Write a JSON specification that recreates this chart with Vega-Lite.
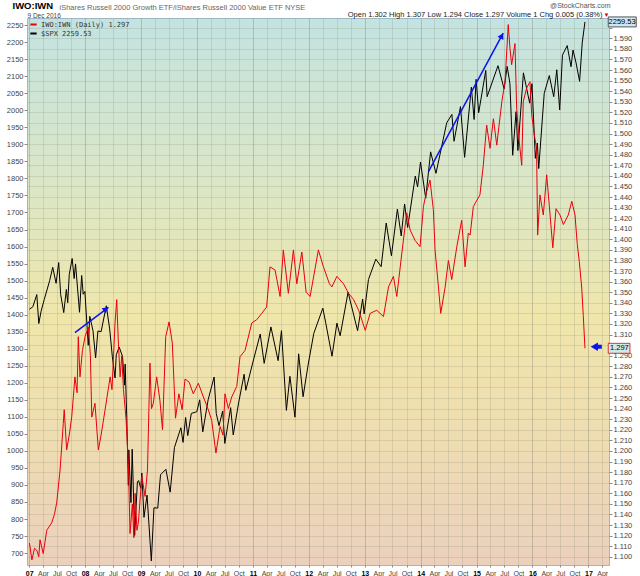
{
  "$schema": "https://vega.github.io/schema/vega-lite/v6.json",
  "description": "IWO:IWN ratio (right axis) against the S&P 500 (left axis), daily, 2007 to Dec 2016.",
  "width": 582,
  "height": 547,
  "autosize": {"type": "none"},
  "padding": {"left": 27, "top": 18, "right": 31, "bottom": 11},
  "datasets": {
    "spx": [
      {"date": "2007-01-03", "close": 1416}, {"date": "2007-01-25", "close": 1423}, {"date": "2007-02-20", "close": 1459},
      {"date": "2007-03-05", "close": 1374}, {"date": "2007-03-20", "close": 1410}, {"date": "2007-04-10", "close": 1445},
      {"date": "2007-05-15", "close": 1500}, {"date": "2007-06-04", "close": 1539}, {"date": "2007-06-26", "close": 1492},
      {"date": "2007-07-13", "close": 1553}, {"date": "2007-07-26", "close": 1459}, {"date": "2007-08-15", "close": 1406},
      {"date": "2007-09-01", "close": 1474}, {"date": "2007-09-10", "close": 1435}, {"date": "2007-09-20", "close": 1518},
      {"date": "2007-10-09", "close": 1565}, {"date": "2007-10-22", "close": 1506}, {"date": "2007-10-31", "close": 1549},
      {"date": "2007-11-26", "close": 1407}, {"date": "2007-12-10", "close": 1515}, {"date": "2007-12-20", "close": 1460},
      {"date": "2007-12-31", "close": 1468}, {"date": "2008-01-22", "close": 1310}, {"date": "2008-02-01", "close": 1395},
      {"date": "2008-02-22", "close": 1353}, {"date": "2008-03-10", "close": 1273}, {"date": "2008-03-25", "close": 1352},
      {"date": "2008-04-15", "close": 1350}, {"date": "2008-05-19", "close": 1426}, {"date": "2008-06-10", "close": 1358},
      {"date": "2008-06-27", "close": 1278}, {"date": "2008-07-15", "close": 1214}, {"date": "2008-07-23", "close": 1282},
      {"date": "2008-08-11", "close": 1305}, {"date": "2008-09-02", "close": 1277}, {"date": "2008-09-15", "close": 1193},
      {"date": "2008-09-19", "close": 1255}, {"date": "2008-09-29", "close": 1106}, {"date": "2008-10-10", "close": 899},
      {"date": "2008-10-13", "close": 1003}, {"date": "2008-10-27", "close": 848}, {"date": "2008-11-04", "close": 1005},
      {"date": "2008-11-20", "close": 752}, {"date": "2008-12-08", "close": 909}, {"date": "2008-12-16", "close": 913},
      {"date": "2008-12-30", "close": 890}, {"date": "2009-01-06", "close": 935}, {"date": "2009-01-20", "close": 805},
      {"date": "2009-02-09", "close": 870}, {"date": "2009-03-09", "close": 677}, {"date": "2009-03-26", "close": 833},
      {"date": "2009-04-20", "close": 832}, {"date": "2009-05-08", "close": 930}, {"date": "2009-06-12", "close": 946},
      {"date": "2009-07-10", "close": 879}, {"date": "2009-08-07", "close": 1010}, {"date": "2009-09-18", "close": 1068},
      {"date": "2009-10-02", "close": 1025}, {"date": "2009-10-19", "close": 1098}, {"date": "2009-11-02", "close": 1045},
      {"date": "2009-11-25", "close": 1110}, {"date": "2009-12-31", "close": 1115}, {"date": "2010-01-19", "close": 1150},
      {"date": "2010-02-08", "close": 1056}, {"date": "2010-03-15", "close": 1150}, {"date": "2010-04-23", "close": 1217},
      {"date": "2010-05-07", "close": 1110}, {"date": "2010-05-25", "close": 1074}, {"date": "2010-06-18", "close": 1117},
      {"date": "2010-07-02", "close": 1022}, {"date": "2010-08-09", "close": 1127}, {"date": "2010-08-26", "close": 1047},
      {"date": "2010-09-30", "close": 1141}, {"date": "2010-11-05", "close": 1225}, {"date": "2010-11-16", "close": 1178},
      {"date": "2010-12-31", "close": 1258}, {"date": "2011-02-18", "close": 1343}, {"date": "2011-03-16", "close": 1257},
      {"date": "2011-04-29", "close": 1364}, {"date": "2011-06-15", "close": 1265}, {"date": "2011-07-07", "close": 1353},
      {"date": "2011-08-08", "close": 1119}, {"date": "2011-08-31", "close": 1219}, {"date": "2011-10-03", "close": 1099},
      {"date": "2011-10-27", "close": 1285}, {"date": "2011-11-25", "close": 1159}, {"date": "2011-12-30", "close": 1258},
      {"date": "2012-02-03", "close": 1345}, {"date": "2012-04-02", "close": 1419}, {"date": "2012-04-20", "close": 1378},
      {"date": "2012-06-01", "close": 1278}, {"date": "2012-07-03", "close": 1375}, {"date": "2012-07-24", "close": 1338},
      {"date": "2012-09-14", "close": 1466}, {"date": "2012-11-15", "close": 1353}, {"date": "2012-12-18", "close": 1446},
      {"date": "2012-12-28", "close": 1402}, {"date": "2013-01-25", "close": 1503}, {"date": "2013-03-14", "close": 1563},
      {"date": "2013-04-18", "close": 1541}, {"date": "2013-05-21", "close": 1669}, {"date": "2013-06-24", "close": 1573},
      {"date": "2013-08-02", "close": 1710}, {"date": "2013-08-27", "close": 1631}, {"date": "2013-09-18", "close": 1725},
      {"date": "2013-10-08", "close": 1656}, {"date": "2013-11-27", "close": 1807}, {"date": "2013-12-12", "close": 1775},
      {"date": "2013-12-31", "close": 1848}, {"date": "2014-02-03", "close": 1742}, {"date": "2014-03-07", "close": 1878},
      {"date": "2014-04-11", "close": 1815}, {"date": "2014-06-20", "close": 1963}, {"date": "2014-07-24", "close": 1988},
      {"date": "2014-08-07", "close": 1909}, {"date": "2014-09-18", "close": 2011}, {"date": "2014-10-15", "close": 1862},
      {"date": "2014-11-28", "close": 2068}, {"date": "2014-12-16", "close": 1973}, {"date": "2014-12-29", "close": 2091},
      {"date": "2015-01-15", "close": 1993}, {"date": "2015-03-02", "close": 2117}, {"date": "2015-03-11", "close": 2040},
      {"date": "2015-05-21", "close": 2131}, {"date": "2015-06-30", "close": 2063}, {"date": "2015-07-20", "close": 2129},
      {"date": "2015-08-07", "close": 2078}, {"date": "2015-08-25", "close": 1868}, {"date": "2015-09-16", "close": 1996},
      {"date": "2015-09-28", "close": 1882}, {"date": "2015-11-03", "close": 2110}, {"date": "2015-12-14", "close": 2021},
      {"date": "2015-12-29", "close": 2078}, {"date": "2016-01-20", "close": 1859}, {"date": "2016-02-02", "close": 1904},
      {"date": "2016-02-11", "close": 1829}, {"date": "2016-03-18", "close": 2050}, {"date": "2016-04-20", "close": 2102},
      {"date": "2016-05-19", "close": 2040}, {"date": "2016-06-08", "close": 2119}, {"date": "2016-06-27", "close": 2001},
      {"date": "2016-07-15", "close": 2162}, {"date": "2016-08-15", "close": 2190}, {"date": "2016-09-09", "close": 2128},
      {"date": "2016-09-22", "close": 2177}, {"date": "2016-10-12", "close": 2139}, {"date": "2016-11-04", "close": 2085},
      {"date": "2016-11-21", "close": 2198}, {"date": "2016-12-09", "close": 2259.53}
    ],
    "ratio": [
      {"date": "2007-01-03", "ratio": 1.113}, {"date": "2007-01-19", "ratio": 1.097}, {"date": "2007-02-05", "ratio": 1.108},
      {"date": "2007-02-20", "ratio": 1.106}, {"date": "2007-03-05", "ratio": 1.100}, {"date": "2007-03-13", "ratio": 1.116},
      {"date": "2007-04-03", "ratio": 1.103}, {"date": "2007-04-26", "ratio": 1.125}, {"date": "2007-05-28", "ratio": 1.132},
      {"date": "2007-06-15", "ratio": 1.140}, {"date": "2007-06-30", "ratio": 1.151}, {"date": "2007-07-22", "ratio": 1.182},
      {"date": "2007-08-12", "ratio": 1.226}, {"date": "2007-08-18", "ratio": 1.239}, {"date": "2007-09-03", "ratio": 1.201},
      {"date": "2007-09-20", "ratio": 1.215}, {"date": "2007-10-06", "ratio": 1.232}, {"date": "2007-10-27", "ratio": 1.270},
      {"date": "2007-11-10", "ratio": 1.255}, {"date": "2007-11-18", "ratio": 1.308}, {"date": "2007-11-29", "ratio": 1.270},
      {"date": "2007-12-15", "ratio": 1.295}, {"date": "2008-01-01", "ratio": 1.308}, {"date": "2008-01-23", "ratio": 1.317},
      {"date": "2008-02-05", "ratio": 1.290}, {"date": "2008-02-14", "ratio": 1.232}, {"date": "2008-03-06", "ratio": 1.245},
      {"date": "2008-03-28", "ratio": 1.201}, {"date": "2008-04-15", "ratio": 1.215}, {"date": "2008-05-11", "ratio": 1.239},
      {"date": "2008-06-13", "ratio": 1.270}, {"date": "2008-06-25", "ratio": 1.258}, {"date": "2008-07-15", "ratio": 1.321},
      {"date": "2008-07-26", "ratio": 1.343}, {"date": "2008-08-05", "ratio": 1.305}, {"date": "2008-08-17", "ratio": 1.270},
      {"date": "2008-08-28", "ratio": 1.290}, {"date": "2008-09-08", "ratio": 1.258}, {"date": "2008-09-25", "ratio": 1.230},
      {"date": "2008-10-10", "ratio": 1.188}, {"date": "2008-10-21", "ratio": 1.122}, {"date": "2008-11-05", "ratio": 1.150},
      {"date": "2008-11-15", "ratio": 1.118}, {"date": "2008-11-23", "ratio": 1.160}, {"date": "2008-12-05", "ratio": 1.125},
      {"date": "2008-12-14", "ratio": 1.132}, {"date": "2009-01-06", "ratio": 1.176}, {"date": "2009-01-27", "ratio": 1.157},
      {"date": "2009-02-12", "ratio": 1.182}, {"date": "2009-02-28", "ratio": 1.283}, {"date": "2009-03-10", "ratio": 1.240},
      {"date": "2009-03-22", "ratio": 1.245}, {"date": "2009-04-13", "ratio": 1.270}, {"date": "2009-05-04", "ratio": 1.248},
      {"date": "2009-05-21", "ratio": 1.220}, {"date": "2009-06-11", "ratio": 1.308}, {"date": "2009-07-03", "ratio": 1.322},
      {"date": "2009-07-24", "ratio": 1.302}, {"date": "2009-08-14", "ratio": 1.231}, {"date": "2009-09-05", "ratio": 1.254},
      {"date": "2009-09-26", "ratio": 1.239}, {"date": "2009-10-15", "ratio": 1.268}, {"date": "2009-11-11", "ratio": 1.265},
      {"date": "2009-12-08", "ratio": 1.254}, {"date": "2010-01-10", "ratio": 1.264}, {"date": "2010-02-12", "ratio": 1.251},
      {"date": "2010-03-16", "ratio": 1.239}, {"date": "2010-04-07", "ratio": 1.229}, {"date": "2010-05-05", "ratio": 1.198},
      {"date": "2010-06-01", "ratio": 1.223}, {"date": "2010-06-20", "ratio": 1.215}, {"date": "2010-07-03", "ratio": 1.254},
      {"date": "2010-07-25", "ratio": 1.240}, {"date": "2010-08-16", "ratio": 1.251}, {"date": "2010-09-18", "ratio": 1.261},
      {"date": "2010-10-09", "ratio": 1.289}, {"date": "2010-11-11", "ratio": 1.295}, {"date": "2010-12-25", "ratio": 1.321},
      {"date": "2011-01-26", "ratio": 1.324}, {"date": "2011-02-28", "ratio": 1.330}, {"date": "2011-04-01", "ratio": 1.336},
      {"date": "2011-04-23", "ratio": 1.374}, {"date": "2011-05-26", "ratio": 1.371}, {"date": "2011-06-28", "ratio": 1.346},
      {"date": "2011-07-19", "ratio": 1.390}, {"date": "2011-08-21", "ratio": 1.349}, {"date": "2011-09-23", "ratio": 1.390},
      {"date": "2011-10-15", "ratio": 1.358}, {"date": "2011-11-17", "ratio": 1.388}, {"date": "2011-12-15", "ratio": 1.350},
      {"date": "2012-01-10", "ratio": 1.346}, {"date": "2012-03-04", "ratio": 1.390}, {"date": "2012-04-06", "ratio": 1.374},
      {"date": "2012-05-15", "ratio": 1.358}, {"date": "2012-05-31", "ratio": 1.355}, {"date": "2012-07-03", "ratio": 1.365},
      {"date": "2012-08-15", "ratio": 1.358}, {"date": "2012-09-17", "ratio": 1.349}, {"date": "2012-10-20", "ratio": 1.343},
      {"date": "2012-11-22", "ratio": 1.333}, {"date": "2013-01-04", "ratio": 1.314}, {"date": "2013-02-05", "ratio": 1.330},
      {"date": "2013-03-20", "ratio": 1.333}, {"date": "2013-05-03", "ratio": 1.327}, {"date": "2013-06-05", "ratio": 1.355},
      {"date": "2013-07-07", "ratio": 1.365}, {"date": "2013-07-29", "ratio": 1.346}, {"date": "2013-08-31", "ratio": 1.387},
      {"date": "2013-10-02", "ratio": 1.425}, {"date": "2013-10-24", "ratio": 1.409}, {"date": "2013-11-25", "ratio": 1.399},
      {"date": "2013-12-28", "ratio": 1.393}, {"date": "2014-01-19", "ratio": 1.431}, {"date": "2014-02-05", "ratio": 1.443},
      {"date": "2014-03-03", "ratio": 1.456}, {"date": "2014-03-25", "ratio": 1.428}, {"date": "2014-04-05", "ratio": 1.390},
      {"date": "2014-04-27", "ratio": 1.355}, {"date": "2014-05-12", "ratio": 1.330}, {"date": "2014-06-10", "ratio": 1.355},
      {"date": "2014-07-01", "ratio": 1.380}, {"date": "2014-07-23", "ratio": 1.362}, {"date": "2014-08-25", "ratio": 1.393},
      {"date": "2014-09-26", "ratio": 1.418}, {"date": "2014-10-18", "ratio": 1.374}, {"date": "2014-11-08", "ratio": 1.406},
      {"date": "2014-11-20", "ratio": 1.404}, {"date": "2014-12-11", "ratio": 1.431}, {"date": "2015-01-23", "ratio": 1.442},
      {"date": "2015-02-14", "ratio": 1.470}, {"date": "2015-03-08", "ratio": 1.508}, {"date": "2015-03-30", "ratio": 1.486},
      {"date": "2015-04-21", "ratio": 1.514}, {"date": "2015-05-13", "ratio": 1.489}, {"date": "2015-06-15", "ratio": 1.530},
      {"date": "2015-07-06", "ratio": 1.549}, {"date": "2015-07-27", "ratio": 1.603}, {"date": "2015-08-07", "ratio": 1.581},
      {"date": "2015-08-18", "ratio": 1.565}, {"date": "2015-09-09", "ratio": 1.585}, {"date": "2015-09-20", "ratio": 1.524},
      {"date": "2015-10-07", "ratio": 1.492}, {"date": "2015-10-23", "ratio": 1.470}, {"date": "2015-11-02", "ratio": 1.530},
      {"date": "2015-11-24", "ratio": 1.543}, {"date": "2015-12-16", "ratio": 1.549}, {"date": "2015-12-27", "ratio": 1.518},
      {"date": "2016-01-13", "ratio": 1.499}, {"date": "2016-01-28", "ratio": 1.486}, {"date": "2016-02-04", "ratio": 1.404},
      {"date": "2016-02-19", "ratio": 1.442}, {"date": "2016-03-12", "ratio": 1.423}, {"date": "2016-04-03", "ratio": 1.461},
      {"date": "2016-04-20", "ratio": 1.432}, {"date": "2016-05-13", "ratio": 1.392}, {"date": "2016-06-03", "ratio": 1.429},
      {"date": "2016-06-29", "ratio": 1.423}, {"date": "2016-07-21", "ratio": 1.414}, {"date": "2016-08-22", "ratio": 1.423},
      {"date": "2016-09-14", "ratio": 1.436}, {"date": "2016-10-05", "ratio": 1.423}, {"date": "2016-10-20", "ratio": 1.395},
      {"date": "2016-11-02", "ratio": 1.379}, {"date": "2016-11-18", "ratio": 1.354}, {"date": "2016-11-28", "ratio": 1.328},
      {"date": "2016-12-09", "ratio": 1.297}
    ]
  },
  "layer": [
    {
      "data": {"name": "spx"},
      "mark": {"type": "line", "strokeWidth": 1, "interpolate": "linear"},
      "encoding": {
        "x": {
          "field": "date", "type": "temporal",
          "scale": {"domain": [{"year": 2006, "month": 12, "date": 18}, {"year": 2017, "month": 5, "date": 15}]},
          "axis": {
            "orient": "bottom",
            "title": null,
            "tickCount": {"interval": "month", "step": 3},
            "grid": true,
            "gridColor": "#7f8270",
            "gridOpacity": {"condition": {"test": "month(datum.value) == 0", "value": 0.38}, "value": 0.2},
            "labelExpr": "month(datum.value) == 0 ? timeFormat(datum.value, '%y') : timeFormat(datum.value, '%b')",
            "labelFontWeight": {"condition": {"test": "month(datum.value) == 0", "value": "bold"}, "value": "normal"},
            "labelColor": {"condition": {"test": "month(datum.value) == 0", "value": "#000"}, "value": "#444"},
            "labelFontSize": 7,
            "labelFlush": false,
            "labelOverlap": false,
            "labelPadding": 2,
            "tickSize": 2
          }
        },
        "y": {
          "field": "close", "type": "quantitative",
          "scale": {"domain": [665, 2271], "nice": false, "zero": false},
          "axis": {
            "orient": "left",
            "title": null,
            "format": "d",
            "values": [700, 750, 800, 850, 900, 950, 1000, 1050, 1100, 1150, 1200, 1250, 1300, 1350, 1400, 1450, 1500, 1550, 1600, 1650, 1700, 1750, 1800, 1850, 1900, 1950, 2000, 2050, 2100, 2150, 2200, 2250],
            "grid": false,
            "labelPadding": 1
          }
        },
        "color": {
          "datum": "$SPX 2259.53",
          "scale": {"domain": ["IWO:IWN (Daily) 1.297", "$SPX 2259.53"], "range": ["#e8000b", "#000000"]},
          "legend": {
            "orient": "top-left",
            "title": null,
            "offset": 2,
            "padding": 0,
            "symbolType": "stroke",
            "symbolSize": 40,
            "symbolStrokeWidth": 2,
            "labelFont": "DejaVu Sans Mono",
            "labelFontSize": 7,
            "labelColor": "#333",
            "labelOffset": 3,
            "rowPadding": 0
          }
        }
      }
    },
    {
      "data": {"name": "ratio"},
      "mark": {"type": "line", "strokeWidth": 1},
      "encoding": {
        "x": {
          "field": "date", "type": "temporal",
          "scale": {"domain": [{"year": 2006, "month": 12, "date": 18}, {"year": 2017, "month": 5, "date": 15}]},
          "axis": {
            "orient": "top", "labels": false, "ticks": false, "domain": false, "grid": false,
            "title": "iShares Russell 2000 Growth ETF/iShares Russell 2000 Value ETF  NYSE",
            "titleX": 32, "titleY": -11, "titleAlign": "left", "titleBaseline": "middle", "titleAngle": 0,
            "titleFontSize": 7.5, "titleFontWeight": "normal", "titleColor": "#666"
          }
        },
        "y": {
          "field": "ratio", "type": "quantitative",
          "scale": {"domain": [1.0922, 1.6092], "nice": false, "zero": false},
          "axis": {
            "orient": "right",
            "title": null,
            "values": [1.1, 1.11, 1.12, 1.13, 1.14, 1.15, 1.16, 1.17, 1.18, 1.19, 1.2, 1.21, 1.22, 1.23, 1.24, 1.25, 1.26, 1.27, 1.28, 1.29, 1.3, 1.31, 1.32, 1.33, 1.34, 1.35, 1.36, 1.37, 1.38, 1.39, 1.4, 1.41, 1.42, 1.43, 1.44, 1.45, 1.46, 1.47, 1.48, 1.49, 1.5, 1.51, 1.52, 1.53, 1.54, 1.55, 1.56, 1.57, 1.58, 1.59, 1.6],
            "format": ".3f",
            "labelExpr": "datum.value == 1.3 || datum.value == 1.6 ? '' : datum.label",
            "grid": true,
            "gridColor": "#7f8270",
            "gridOpacity": 0.2,
            "labelPadding": 1
          }
        },
        "color": {"datum": "IWO:IWN (Daily) 1.297"}
      }
    },
    {
      "data": {"values": [
        {"start": "2007-10-27", "end": "2008-06-02", "from": 1347, "to": 1421.6},
        {"start": "2014-02-21", "end": "2015-06-24", "from": 1820, "to": 2226.4}
      ]},
      "mark": {"type": "rule", "color": "#0a14f0", "strokeWidth": 1.5},
      "encoding": {
        "x": {
          "field": "start", "type": "temporal",
          "scale": {"domain": [{"year": 2006, "month": 12, "date": 18}, {"year": 2017, "month": 5, "date": 15}]},
          "axis": {
            "orient": "top", "labels": false, "ticks": false, "domain": false, "grid": false,
            "title": "Open 1.302  High 1.307  Low 1.294  Close 1.297  Volume 1  Chg 0.005 (0.38%)",
            "titleX": 575, "titleY": -4, "titleAlign": "right", "titleBaseline": "middle", "titleAngle": 0,
            "titleFontSize": 7.5, "titleFontWeight": "normal", "titleColor": "#222"
          }
        },
        "x2": {"field": "end"},
        "y": {"field": "from", "type": "quantitative", "scale": {"domain": [665, 2271], "nice": false, "zero": false}, "axis": null},
        "y2": {"field": "to"}
      }
    },
    {
      "data": {"values": [{"date": "2008-05-17", "close": 1416.3}]},
      "mark": {"type": "point", "shape": "triangle-up", "filled": true, "color": "#0a14f0", "size": 45, "angle": 53, "opacity": 1},
      "encoding": {
        "x": {
          "field": "date", "type": "temporal",
          "scale": {"domain": [{"year": 2006, "month": 12, "date": 18}, {"year": 2017, "month": 5, "date": 15}]},
          "axis": {
            "orient": "top", "labels": false, "ticks": false, "domain": false, "grid": false,
            "title": "@StockCharts.com",
            "titleX": 583, "titleY": -13, "titleAlign": "right", "titleBaseline": "middle", "titleAngle": 0,
            "titleFontSize": 7, "titleFontWeight": "normal", "titleColor": "#555"
          }
        },
        "y": {"field": "close", "type": "quantitative", "scale": {"domain": [665, 2271], "nice": false, "zero": false}, "axis": null}
      }
    },
    {
      "data": {"values": [{"date": "2015-06-15", "close": 2218.7}]},
      "mark": {"type": "point", "shape": "triangle-up", "filled": true, "color": "#0a14f0", "size": 45, "angle": 28, "opacity": 1},
      "encoding": {
        "x": {
          "field": "date", "type": "temporal",
          "scale": {"domain": [{"year": 2006, "month": 12, "date": 18}, {"year": 2017, "month": 5, "date": 15}]},
          "axis": {
            "orient": "top", "labels": false, "ticks": false, "domain": false, "grid": false,
            "title": "9 Dec 2016",
            "titleX": 0, "titleY": -3, "titleAlign": "left", "titleBaseline": "middle", "titleAngle": 0,
            "titleFontSize": 6.5, "titleFontWeight": "normal", "titleColor": "#444"
          }
        },
        "y": {"field": "close", "type": "quantitative", "scale": {"domain": [665, 2271], "nice": false, "zero": false}, "axis": null}
      }
    },
    {
      "data": {"values": [{"start": "2017-02-10", "end": "2017-03-29", "ratio": 1.2985}]},
      "mark": {"type": "rule", "color": "#0a14f0", "strokeWidth": 4},
      "encoding": {
        "x": {
          "field": "start", "type": "temporal",
          "scale": {"domain": [{"year": 2006, "month": 12, "date": 18}, {"year": 2017, "month": 5, "date": 15}]},
          "axis": {
            "orient": "top", "labels": false, "ticks": false, "domain": false, "grid": false,
            "title": "▼",
            "titleX": 582, "titleY": -4, "titleAlign": "right", "titleBaseline": "middle", "titleAngle": 0,
            "titleFontSize": 6, "titleFontWeight": "normal", "titleColor": "#d00000"
          }
        },
        "x2": {"field": "end"},
        "y": {"field": "ratio", "type": "quantitative", "scale": {"domain": [1.0922, 1.6092], "nice": false, "zero": false}, "axis": null}
      }
    },
    {
      "data": {"values": [{"date": "2017-02-08", "ratio": 1.2985}]},
      "mark": {"type": "point", "shape": "triangle-left", "filled": true, "color": "#0a14f0", "size": 70, "opacity": 1},
      "encoding": {
        "x": {
          "field": "date", "type": "temporal",
          "scale": {"domain": [{"year": 2006, "month": 12, "date": 18}, {"year": 2017, "month": 5, "date": 15}]},
          "axis": {
            "orient": "top", "labels": false, "ticks": false, "domain": false, "grid": false,
            "title": "IWO:IWN",
            "titleX": -15, "titleY": -12.5, "titleAlign": "left", "titleBaseline": "middle", "titleAngle": 0,
            "titleFontSize": 9.5, "titleFontWeight": "bold", "titleColor": "#000"
          }
        },
        "y": {"field": "ratio", "type": "quantitative", "scale": {"domain": [1.0922, 1.6092], "nice": false, "zero": false}, "axis": null}
      }
    },
    {
      "data": {"values": [{"start": "2017-05-10", "end": "2017-11-09", "low": 2244.8, "high": 2274.2}]},
      "mark": {"type": "rect", "fill": "#cfe6ee", "stroke": "#333", "strokeWidth": 0.8},
      "encoding": {
        "x": {"field": "start", "type": "temporal", "scale": {"domain": [{"year": 2006, "month": 12, "date": 18}, {"year": 2017, "month": 5, "date": 15}]}, "axis": null},
        "x2": {"field": "end"},
        "y": {"field": "low", "type": "quantitative", "scale": {"domain": [665, 2271], "nice": false, "zero": false}, "axis": null},
        "y2": {"field": "high"}
      }
    },
    {
      "data": {"values": [{"date": "2017-08-09", "close": 2259.53, "label": "2259.53"}]},
      "mark": {"type": "text", "fontSize": 7.5, "color": "#000", "align": "center", "baseline": "middle"},
      "encoding": {
        "x": {"field": "date", "type": "temporal", "scale": {"domain": [{"year": 2006, "month": 12, "date": 18}, {"year": 2017, "month": 5, "date": 15}]}, "axis": null},
        "y": {"field": "close", "type": "quantitative", "scale": {"domain": [665, 2271], "nice": false, "zero": false}, "axis": null},
        "text": {"field": "label"}
      }
    },
    {
      "data": {"values": [{"start": "2017-05-10", "end": "2017-09-29", "low": 1.2923, "high": 1.3017}]},
      "mark": {"type": "rect", "fill": "#cfe9e4", "stroke": "#e8000b", "strokeWidth": 0.8},
      "encoding": {
        "x": {"field": "start", "type": "temporal", "scale": {"domain": [{"year": 2006, "month": 12, "date": 18}, {"year": 2017, "month": 5, "date": 15}]}, "axis": null},
        "x2": {"field": "end"},
        "y": {"field": "low", "type": "quantitative", "scale": {"domain": [1.0922, 1.6092], "nice": false, "zero": false}, "axis": null},
        "y2": {"field": "high"}
      }
    },
    {
      "data": {"values": [{"date": "2017-07-22", "ratio": 1.297, "label": "1.297"}]},
      "mark": {"type": "text", "fontSize": 7.5, "color": "#000", "align": "center", "baseline": "middle"},
      "encoding": {
        "x": {"field": "date", "type": "temporal", "scale": {"domain": [{"year": 2006, "month": 12, "date": 18}, {"year": 2017, "month": 5, "date": 15}]}, "axis": null},
        "y": {"field": "ratio", "type": "quantitative", "scale": {"domain": [1.0922, 1.6092], "nice": false, "zero": false}, "axis": null},
        "text": {"field": "label"}
      }
    }
  ],
  "resolve": {
    "scale": {"x": "independent", "y": "independent"},
    "axis": {"x": "independent", "y": "independent"}
  },
  "config": {
    "font": "Liberation Sans",
    "view": {
      "fill": {
        "gradient": "linear", "x1": 0, "y1": 0, "x2": 0, "y2": 1,
        "stops": [
          {"offset": 0, "color": "#c3e3e1"},
          {"offset": 0.3, "color": "#dbe6c6"},
          {"offset": 0.55, "color": "#f0e6aa"},
          {"offset": 0.78, "color": "#eedcb2"},
          {"offset": 1, "color": "#ebd0bd"}
        ]
      },
      "stroke": "#9fb6c6",
      "strokeWidth": 1
    },
    "axis": {
      "labelFont": "Liberation Sans",
      "titleFont": "Liberation Sans",
      "labelFontSize": 7.5,
      "labelColor": "#444",
      "domain": false,
      "tickColor": "#8a8a8a",
      "tickSize": 3
    },
    "legend": {"labelFont": "DejaVu Sans Mono"}
  }
}
